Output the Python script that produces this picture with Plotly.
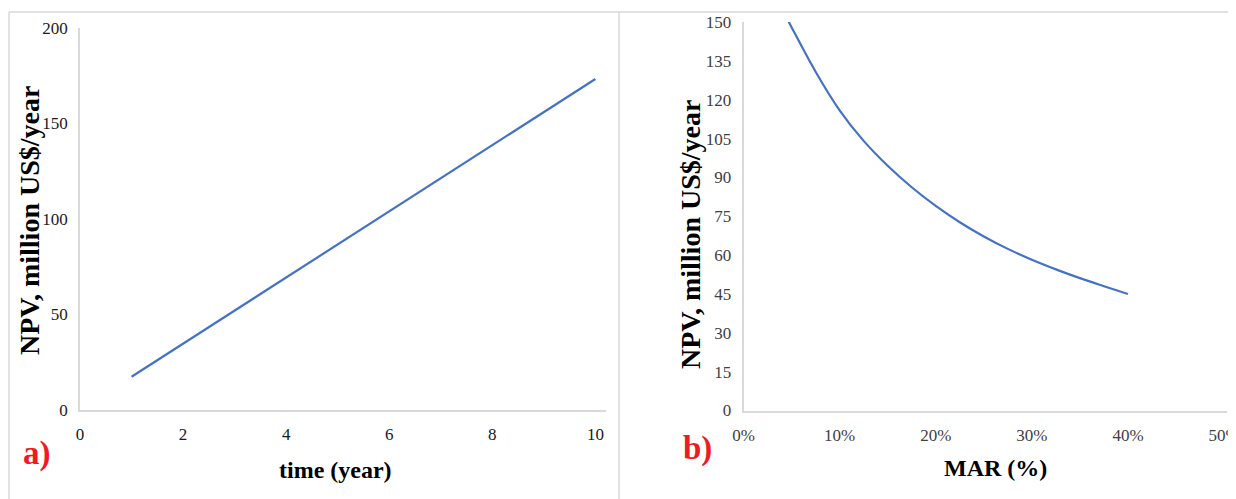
import plotly.graph_objects as go

# Panel a: NPV vs time
time_years = [1, 2, 3, 4, 5, 6, 7, 8, 9, 10]
npv_time = [17.4, 34.7, 52.0, 69.4, 86.7, 104.0, 121.3, 138.7, 156.0, 173.3]

# Panel b: NPV vs MAR
mar = [0.045, 0.05, 0.075, 0.10, 0.125, 0.15, 0.175, 0.20, 0.225, 0.25,
       0.275, 0.30, 0.325, 0.35, 0.375, 0.40]
npv_mar = [151.5, 148, 130.8, 115.9, 104.1, 94.5, 86.2, 79, 72.7, 67.2,
           62.4, 58.2, 54.5, 51.1, 48, 45]

a_xticks = [0, 2, 4, 6, 8, 10]
a_yticks = [0, 50, 100, 150, 200]
b_xticks = [0, 0.1, 0.2, 0.3, 0.4, 0.5]
b_xlabels = ["0%", "10%", "20%", "30%", "40%", "50%"]
b_yticks = [0, 15, 30, 45, 60, 75, 90, 105, 120, 135, 150]

# page body has an 8px margin, so the figure is shifted by 8px
OFF = 8
W, H = 1236 - OFF, 499 - OFF
LINE = "#4472C4"
AX = "#d9d9d9"
SERIF = "Liberation Serif, Times New Roman, serif"

def px(x):
    return (x - OFF) / W

def py(y):
    return (H - (y - OFF)) / H

fig = go.Figure()
fig.add_trace(go.Scatter(x=time_years, y=npv_time, mode="lines",
                         line=dict(color=LINE, width=2.2), xaxis="x", yaxis="y",
                         showlegend=False))
fig.add_trace(go.Scatter(x=mar, y=npv_mar, mode="lines",
                         line=dict(color=LINE, width=2.2, shape="spline"),
                         xaxis="x2", yaxis="y2", showlegend=False))

common = dict(showgrid=False, zeroline=False, showline=True, linecolor=AX,
              linewidth=1.5, ticks="", fixedrange=True, automargin=False,
              ticklabeloverflow="allow")

fig.update_layout(
    template="none",
    width=W, height=H,
    margin=dict(l=0, r=0, t=0, b=0, pad=0, autoexpand=False),
    paper_bgcolor="white", plot_bgcolor="white",
    font=dict(family=SERIF),
    xaxis=dict(domain=[px(80), px(605.7)], range=[0, 10.2], anchor="y",
               tickvals=a_xticks, ticklabelstandoff=8,
               tickfont=dict(size=17, color="#1a1a1a"), **common),
    yaxis=dict(domain=[py(410), py(28)], range=[0, 200], anchor="x",
               tickvals=a_yticks, ticklabelstandoff=7,
               tickfont=dict(size=17, color="#1a1a1a"), **common),
    xaxis2=dict(domain=[px(743.5), px(1227)], range=[0, 0.503], anchor="y2",
                tickvals=b_xticks, ticktext=b_xlabels, ticklabelstandoff=8,
                tickfont=dict(size=17, color="#404040"), **common),
    yaxis2=dict(domain=[py(410.5), py(22)], range=[0, 150], anchor="x2",
                tickvals=b_yticks, ticklabelstandoff=7,
                tickfont=dict(size=17, color="#404040"), **common),
)

title_font_x = dict(family=SERIF, size=24, color="black")
title_font_y = dict(family=SERIF, size=28, color="black")
annotations = [
    dict(text="<b>time (year)</b>", x=px(335), y=py(470), xref="paper", yref="paper",
         showarrow=False, font=title_font_x, xanchor="center", yanchor="middle"),
    dict(text="<b>MAR (%)</b>", x=px(995), y=py(468), xref="paper", yref="paper",
         showarrow=False, font=title_font_x, xanchor="center", yanchor="middle"),
    dict(text="<b>NPV, million US$/year</b>", x=px(29), y=py(221), xref="paper", yref="paper",
         showarrow=False, font=title_font_y, textangle=-90, xanchor="center", yanchor="middle"),
    dict(text="<b>NPV, million US$/year</b>", x=px(690), y=py(235), xref="paper", yref="paper",
         showarrow=False, font=title_font_y, textangle=-90, xanchor="center", yanchor="middle"),
    dict(text="<b>a)</b>", x=px(37), y=py(453), xref="paper", yref="paper",
         showarrow=False, font=dict(family=SERIF, size=33, color="#ED1C24"),
         xanchor="center", yanchor="middle"),
    dict(text="<b>b)</b>", x=px(697), y=py(448), xref="paper", yref="paper",
         showarrow=False, font=dict(family=SERIF, size=33, color="#ED1C24"),
         xanchor="center", yanchor="middle"),
]
fig.update_layout(annotations=annotations)

shapes = [
    dict(type="line", xref="paper", yref="paper", x0=px(9), x1=1, y0=py(12), y1=py(12),
         line=dict(color=AX, width=1.5)),
    dict(type="line", xref="paper", yref="paper", x0=px(9), x1=px(9), y0=py(12), y1=0,
         line=dict(color=AX, width=1.5)),
    dict(type="line", xref="paper", yref="paper", x0=px(619), x1=px(619), y0=py(12), y1=0,
         line=dict(color=AX, width=1.5)),
]
fig.update_layout(shapes=shapes)

fig.write_html("out.html")
